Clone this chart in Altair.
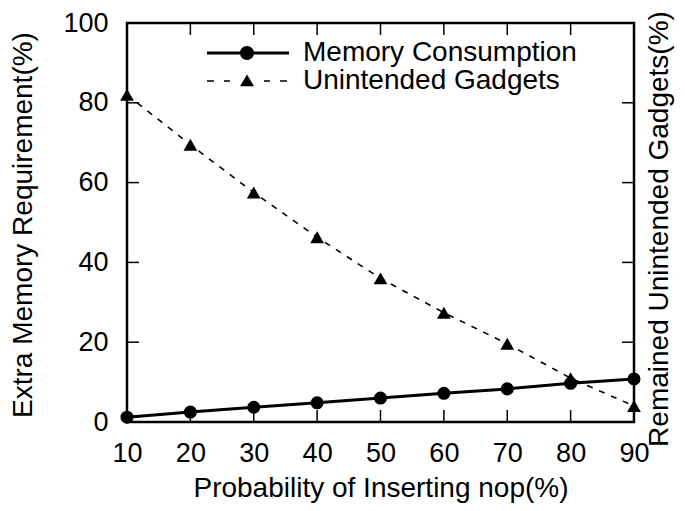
import altair as alt
import pandas as pd

prob = [10, 20, 30, 40, 50, 60, 70, 80, 90]
memory = [1.2, 2.5, 3.7, 4.8, 6.0, 7.2, 8.3, 9.7, 10.8]
gadgets = [82.0, 69.5, 57.5, 46.3, 36.0, 27.4, 19.6, 11.0, 4.0]
series_names = ["Memory Consumption", "Unintended Gadgets"]
x_ticks = [10, 20, 30, 40, 50, 60, 70, 80, 90]
y_ticks = [0, 20, 40, 60, 80, 100]

W, H = 507, 399
FONT = "Liberation Sans"
FS = 28
LFS = 27

df = pd.DataFrame({
    "prob": prob * 2,
    "value": memory + gadgets,
    "series": [series_names[0]] * len(prob) + [series_names[1]] * len(prob),
})
xt = pd.DataFrame({"t": x_ticks})
yt = pd.DataFrame({"t": y_ticks})

xscale = alt.Scale(domain=[10, 90], nice=False, zero=False)
yscale = alt.Scale(domain=[0, 100], nice=False)

axis_style = dict(labelFont=FONT, labelFontSize=LFS, labelColor="black",
                  titleFont=FONT, titleFontSize=FS, titleColor="black",
                  titleFontWeight="normal")

xenc = alt.X("prob:Q", scale=xscale,
             axis=alt.Axis(values=x_ticks, ticks=False, domain=False, grid=False,
                           labelPadding=18, labelFlush=False, labelOverlap=False,
                           title="Probability of Inserting nop(%)",
                           titleBaseline="alphabetic", titleX=W / 2, titleY=74,
                           **axis_style))
yenc = alt.Y("value:Q", scale=yscale,
             axis=alt.Axis(values=y_ticks, ticks=False, domain=False, grid=False,
                           labelPadding=19, labelFlush=False, labelOverlap=False,
                           title="Extra Memory Requirement(%)",
                           titleBaseline="alphabetic", titleAngle=270,
                           titleX=-96, titleY=H / 2 + 2,
                           **axis_style))

mem_line = alt.Chart(df).transform_filter(alt.datum.series == series_names[0]).mark_line(
    color="black", strokeWidth=3).encode(x=xenc, y=yenc)
gad_line = alt.Chart(df).transform_filter(alt.datum.series == series_names[1]).mark_line(
    color="black", strokeWidth=1.6, strokeDash=[6, 7]).encode(x=xenc, y=yenc)
mem_pts = alt.Chart(df).transform_filter(alt.datum.series == series_names[0]).mark_point(
    shape="circle", filled=True, color="black", size=170, opacity=1).encode(x=xenc, y=yenc)
gad_pts = alt.Chart(df).transform_filter(alt.datum.series == series_names[1]).mark_point(
    shape="triangle-up", filled=True, color="black", size=190, opacity=1).encode(x=xenc, y=yenc)

# legend glyphs: filled shapes only (thin rectangles stand for the line segments)
mem_sym = ("M-4.0,-0.15H4.2V0.15H-4.0Z"
           "M0.7,0A0.7,0.7,0,1,1,-0.7,0A0.7,0.7,0,1,1,0.7,0Z")
gad_sym = ("M-4.0,-0.08H-3.3V0.08H-4.0Z"
           "M-2.3,-0.08H-1.7V0.08H-2.3Z"
           "M1.7,-0.08H2.3V0.08H1.7Z"
           "M3.3,-0.08H4.0V0.08H3.3Z"
           "M0,-0.65L0.7,0.52L-0.7,0.52Z")

leg = alt.Legend(title=None, orient="none", legendX=106, legendY=16,
                 symbolSize=400, symbolStrokeWidth=0,
                 symbolFillColor="black", symbolStrokeColor="black",
                 symbolOpacity=1, labelFont=FONT, labelFontSize=FS,
                 labelColor="black", rowPadding=0, labelOffset=42,
                 labelLimit=0, padding=0)

legend_layer = alt.Chart(df).transform_filter("false").mark_point(
    filled=True, color="black", opacity=1).encode(
    x=alt.X("prob:Q", scale=xscale),
    y=alt.Y("value:Q", scale=yscale),
    shape=alt.Shape("series:N",
                    scale=alt.Scale(domain=series_names, range=[mem_sym, gad_sym]),
                    legend=leg),
)

tick_len = 12
bottom_ticks = alt.Chart(xt).mark_rule(color="black", strokeWidth=1.5).encode(
    x=alt.X("t:Q", scale=xscale), y=alt.value(H), y2=alt.value(H - tick_len))
top_ticks = alt.Chart(xt).mark_rule(color="black", strokeWidth=1.5).encode(
    x=alt.X("t:Q", scale=xscale), y=alt.value(0), y2=alt.value(tick_len))
left_ticks = alt.Chart(yt).mark_rule(color="black", strokeWidth=1.5).encode(
    y=alt.Y("t:Q", scale=yscale), x=alt.value(0), x2=alt.value(tick_len))

main = alt.layer(gad_line, mem_line, gad_pts, mem_pts, legend_layer,
                 bottom_ticks, top_ticks, left_ticks)

right_ticks = alt.Chart(yt).mark_rule(color="black", strokeWidth=1.5).encode(
    y=alt.Y("t:Q", scale=yscale,
            axis=alt.Axis(orient="right", labels=False, ticks=False, domain=False,
                          grid=False, title="Remained Unintended Gadgets(%)",
                          titleAngle=270, titleBaseline="alphabetic",
                          titleX=33, titleY=H / 2 + 6, **axis_style)),
    x=alt.value(W - tick_len), x2=alt.value(W))

chart = alt.layer(main, right_ticks).resolve_scale(y="independent").properties(
    width=W, height=H,
    autosize=alt.AutoSizeParams(type="none"),
    padding={"left": 119, "top": 15, "right": 43, "bottom": 81},
    background="white",
).configure_view(stroke="black", strokeWidth=2.5)

chart.save("out.html", embed_options={"renderer": "svg", "actions": False})
